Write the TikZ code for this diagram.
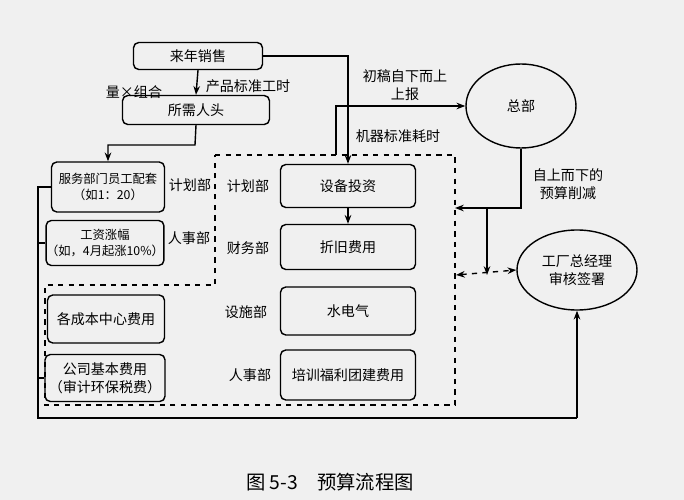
\documentclass[tikz,border=0pt]{standalone}
\usepackage{fontspec}
\setmainfont{Noto Sans CJK SC}
\usetikzlibrary{shapes.geometric,arrows.meta}
\begin{document}
\begin{tikzpicture}[x=0.02cm,y=-0.02cm,
  box/.style={draw,thick,rounded corners=3pt,align=center,font=\fontsize{8}{10}\selectfont,inner sep=0pt},
  sbox/.style={box,font=\fontsize{7}{9.5}\selectfont},
  ell/.style={draw,thick,ellipse,align=center,font=\fontsize{8}{10}\selectfont,inner sep=0pt},
  lab/.style={font=\fontsize{8}{10}\selectfont,align=center,inner sep=1pt},
  arr/.style={thick,-{Stealth[length=5pt]}},
  dsh/.style={thick,dashed}]
\fill[gray!12] (0,0) rectangle (684,500);
\useasboundingbox (0,0) rectangle (684,500);
% boxes
\node[box,minimum width=129*0.02cm,minimum height=27*0.02cm] (sales) at (198,56) {来年销售};
\node[box,minimum width=147*0.02cm,minimum height=29*0.02cm] (head) at (196,110) {所需人头};
\node[sbox,minimum width=113*0.02cm,minimum height=50*0.02cm] (svc) at (108,187) {服务部门员工配套\\（如1：20）};
\node[sbox,minimum width=116*0.02cm,minimum height=45*0.02cm] (wage) at (105,243) {工资涨幅\\（如，4月起涨10\%）};
\node[box,minimum width=117*0.02cm,minimum height=48*0.02cm] (cost) at (106,319) {各成本中心费用};
\node[box,minimum width=120*0.02cm,minimum height=47*0.02cm] (base) at (105,378) {公司基本费用\\（审计环保税费）};
\node[box,minimum width=135*0.02cm,minimum height=43*0.02cm] (equip) at (348,186) {设备投资};
\node[box,minimum width=135*0.02cm,minimum height=45*0.02cm] (depr) at (348,247) {折旧费用};
\node[box,minimum width=135*0.02cm,minimum height=48*0.02cm] (util) at (348,311) {水电气};
\node[box,minimum width=135*0.02cm,minimum height=50*0.02cm] (train) at (348,375) {培训福利团建费用};
\node[ell,minimum width=110*0.02cm,minimum height=84*0.02cm] (hq) at (521,106) {总部};
\node[ell,minimum width=120*0.02cm,minimum height=80*0.02cm] (gm) at (577,270) {工厂总经理\\审核签署};
% labels
\node[lab] (l1) at (248,86) {产品标准工时};
\node[lab] (l2) at (134,92) {量×组合};
\node[lab] (l3) at (190,185) {计划部};
\node[lab] (l4) at (189,238) {人事部};
\node[lab] (l5) at (248,186) {计划部};
\node[lab] (l6) at (248,248) {财务部};
\node[lab] (l7) at (246,312) {设施部};
\node[lab] (l8) at (250,375) {人事部};
\node[lab] (l9) at (398,136) {机器标准耗时};
\node[lab] (l10) at (405,85) {初稿自下而上\\上报};
\node[lab] (l11) at (568,184) {自上而下的\\预算削减};
\node[font=\fontsize{11}{13}\selectfont] (cap) at (330,482) {图 5-3\quad 预算流程图};
% dashed region
\draw[dsh] (215,155) -- (455,155) -- (455,405) -- (45,405) -- (45,285) -- (215,285) -- cycle;
% connectors
\draw[arr] (sales.south) -- (head.north);
\draw[arr] (head.south) -- (195,145) -| (svc.north);
\draw[arr] (sales.east) -| (equip.north);
\draw[arr] (equip.south) -- (depr.north);
\draw[arr] (336,155) |- (hq.west);
\coordinate (cut) at (455,208);
\draw[arr] (hq.south) |- (cut);
\draw[arr] (487,208) -- (487,275);
\coordinate (dl) at (456,275);
\draw[dsh,{Stealth[length=5pt]}-{Stealth[length=5pt]}] (dl) -- (gm.west);
\draw[thick] (svc.west) -- (38,187) -- (38,418) -- (577,418);
\draw[thick] (wage.west) -- (38,243);
\draw[thick] (base.west) -- (38,378);
\draw[arr] (577,418) -- (gm.south);
\end{tikzpicture}
\end{document}
